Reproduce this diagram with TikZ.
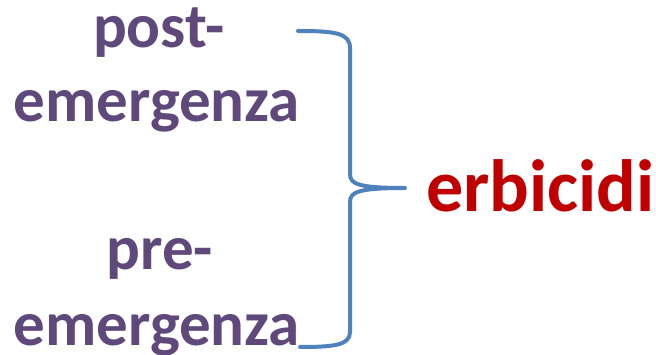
\documentclass[tikz,border=0pt]{standalone}
\usepackage{fontspec}
\setmainfont{Carlito}
\definecolor{txtpurple}{HTML}{5F497A}
\definecolor{txtred}{HTML}{C00000}
\definecolor{bracblue}{HTML}{4F81BD}
\begin{document}
\begin{tikzpicture}[x=1pt,y=-1pt,
  lbl/.style={font=\fontsize{63}{63}\selectfont\bfseries, text=txtpurple, anchor=base, inner sep=0pt},
  res/.style={font=\fontsize{74}{74}\selectfont\bfseries, text=txtred, anchor=base west, inner sep=0pt},
  bracestyle/.style={draw=bracblue, line width=4pt, line cap=round, line join=round}]
\useasboundingbox (0,0) rectangle (656,355);
\node[lbl] (post) at (159,48) {post-};
\node[lbl] (em1) at (157,122) {emergenza};
\node[lbl] (pre) at (160,270) {pre-};
\node[lbl] (em2) at (157,345) {emergenza};
\node[res] (erb) at (426,212) {erbicidi};
\coordinate (top) at (298,31);
\coordinate (tip) at (405,188);
\coordinate (bot) at (300,347);
\draw[bracestyle] (top) .. controls (335,31) and (350,33) .. (350,48) -- (350,174)
  .. controls (350,184) and (358,188) .. (tip)
  .. controls (358,188) and (350,192) .. (350,202) -- (350,332)
  .. controls (350,345) and (335,347) .. (bot);
\end{tikzpicture}
\end{document}
